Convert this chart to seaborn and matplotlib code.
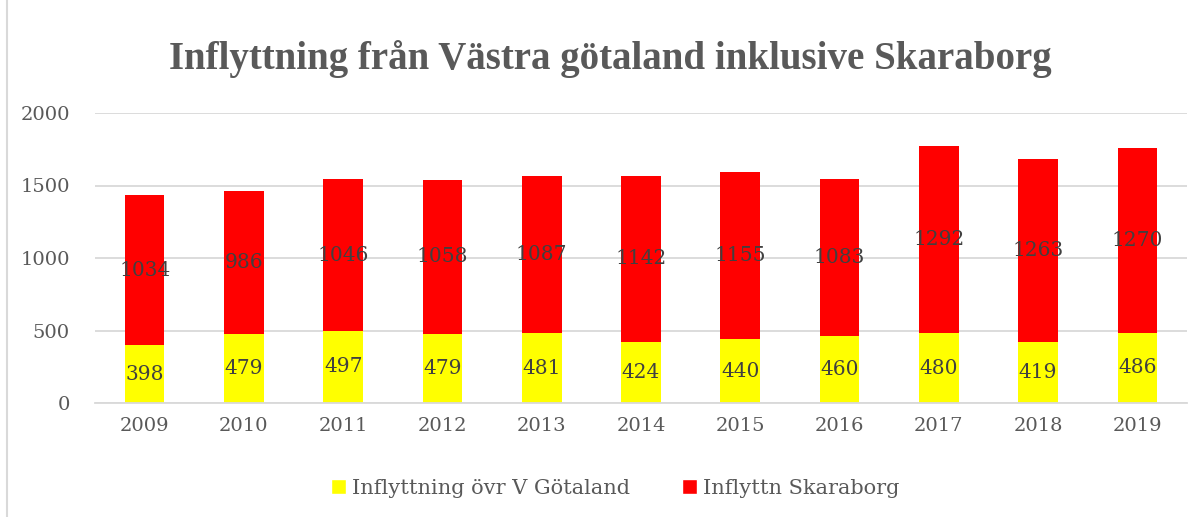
import matplotlib
matplotlib.use("Agg")
import matplotlib.pyplot as plt
import seaborn as sns
import pandas as pd
from matplotlib.patches import Rectangle, Patch

years = [2009, 2010, 2011, 2012, 2013, 2014, 2015, 2016, 2017, 2018, 2019]
ovr_vgotaland = [398, 479, 497, 479, 481, 424, 440, 460, 480, 419, 486]
skaraborg = [1034, 986, 1046, 1058, 1087, 1142, 1155, 1083, 1292, 1263, 1270]

df = pd.DataFrame({"year": [str(y) for y in years],
                   "ovr": ovr_vgotaland,
                   "skb": skaraborg})
df["total"] = df["ovr"] + df["skb"]

sns.set_theme(style="white")
plt.rcParams["font.family"] = ["DejaVu Serif"]

fig = plt.figure(figsize=(12.02, 5.17), dpi=100)
ax = fig.add_axes([95 / 1202, 1 - 403 / 517, (1187 - 95) / 1202, (403 - 113) / 517])

yellow = "#FFFF00"
red = "#FF0000"
sns.barplot(data=df, x="year", y="total", color=red, width=0.4, ax=ax,
            saturation=1, linewidth=0)
sns.barplot(data=df, x="year", y="ovr", color=yellow, width=0.4, ax=ax,
            saturation=1, linewidth=0)

for i, row in df.iterrows():
    ax.text(i, row["ovr"] / 2, str(row["ovr"]), ha="center", va="center",
            fontsize=14.5, color="#404040")
    ax.text(i, row["ovr"] + row["skb"] / 2, str(row["skb"]), ha="center",
            va="center", fontsize=14.5, color="#404040")

ax.set_ylim(0, 2000)
ax.set_yticks([0, 500, 1000, 1500, 2000])
ax.yaxis.grid(True, color="#D9D9D9", linewidth=1.3)
ax.set_axisbelow(True)
for s in ["top", "right", "left"]:
    ax.spines[s].set_visible(False)
ax.spines["bottom"].set_color("#D9D9D9")
ax.spines["bottom"].set_linewidth(1.3)
ax.set_xlabel("")
ax.set_ylabel("")
ax.tick_params(axis="both", length=0, labelsize=14, labelcolor="#595959")
ax.tick_params(axis="y", pad=18)
ax.tick_params(axis="x", pad=10)

fig.text(0.508, 0.885, "Inflyttning från Västra götaland inklusive Skaraborg",
         ha="center", va="center", fontsize=28, fontweight="bold",
         color="#595959", family=["Liberation Serif", "DejaVu Serif"])

handles = [Patch(facecolor=yellow, label="Inflyttning övr V Götaland"),
           Patch(facecolor=red, label="Inflyttn Skaraborg")]
fig.legend(handles=handles, loc="center", bbox_to_anchor=(0.512, 0.055),
           ncol=2, frameon=False, fontsize=15, handlelength=0.7,
           handleheight=0.7, handletextpad=0.3, columnspacing=2.5,
           labelcolor="#595959")

fig.patches.append(Rectangle((7 / 1202, -0.02), 1.1, 1.1, transform=fig.transFigure,
                             fill=False, edgecolor="#D9D9D9", linewidth=1.5))

fig.savefig("out.png", dpi=100)
